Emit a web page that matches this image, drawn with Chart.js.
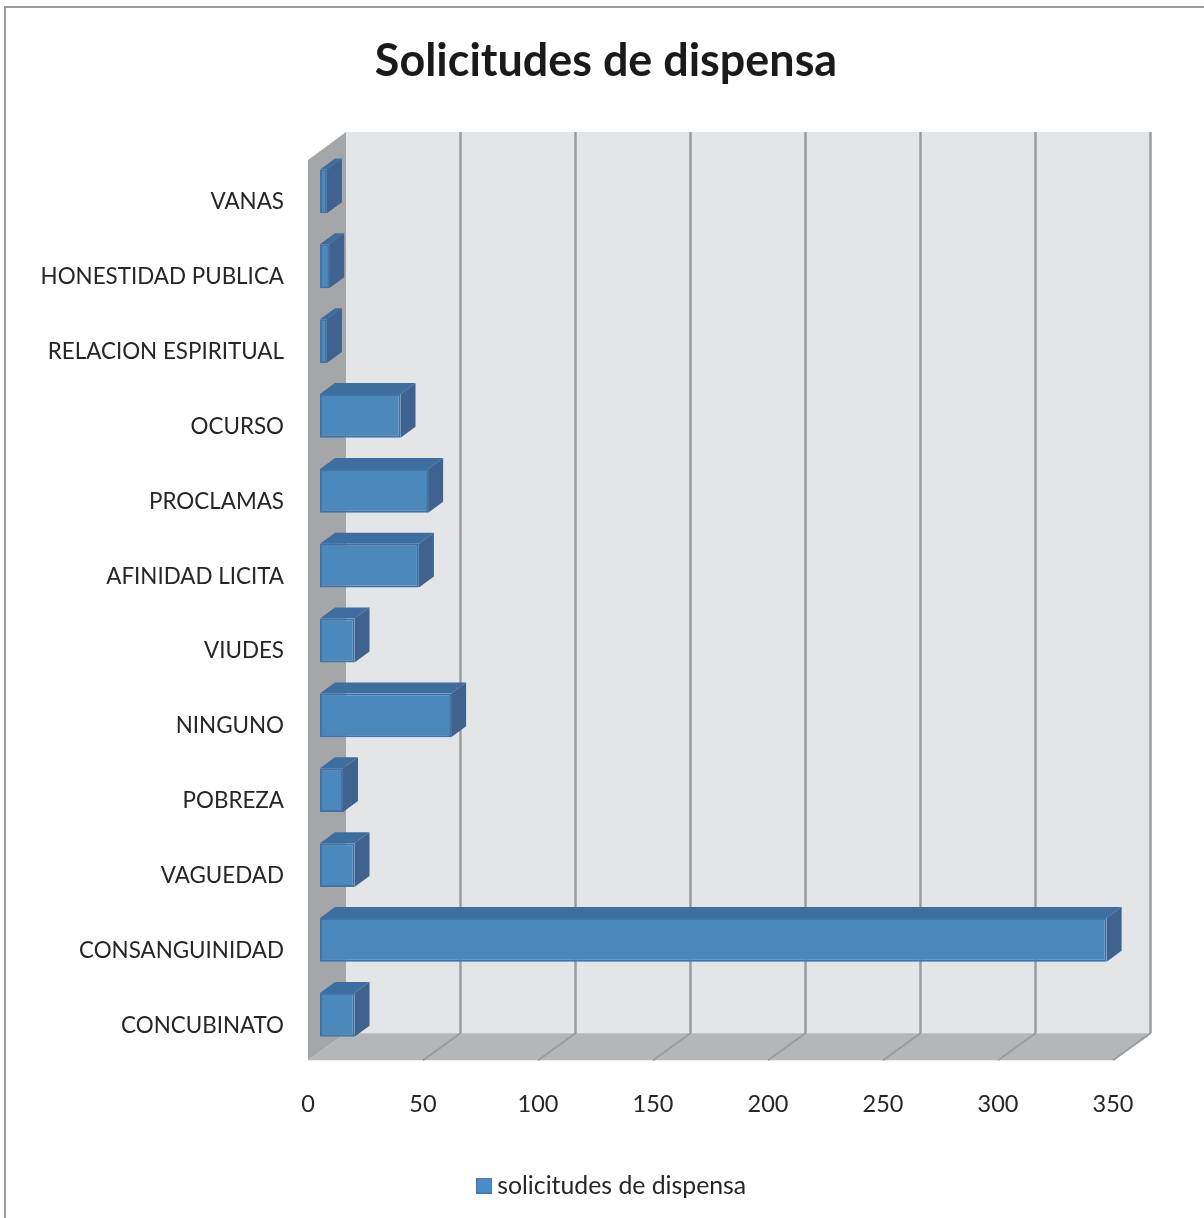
<!DOCTYPE html>
<html>
<head>
<meta charset="utf-8">
<title>Solicitudes de dispensa</title>
<script src="https://cdn.jsdelivr.net/npm/chart.js@4"></script>
<style>
  html, body { margin: 0; padding: 0; background: #fff; overflow: hidden; }
  canvas { display: block; }
</style>
</head>
<body>
<canvas id="dispensaChart" width="1204" height="1218"></canvas>
<script>
const categories = ['VANAS', 'HONESTIDAD PUBLICA', 'RELACION ESPIRITUAL', 'OCURSO', 'PROCLAMAS',
    'AFINIDAD LICITA', 'VIUDES', 'NINGUNO', 'POBREZA', 'VAGUEDAD', 'CONSANGUINIDAD', 'CONCUBINATO'];
const solicitudes = [3, 4, 3, 35, 47, 43, 15, 57, 10, 15, 342, 15];
const xTicks = [0, 50, 100, 150, 200, 250, 300, 350];

const textColor = '#262626';
const frontColor = '#4b89bc';
const edgeColor = '#3f74a8';
const topColor = '#3c6e9f';
const sideColor = '#3f628e';

// legend swatch with its thin darker border
const swatch = document.createElement('canvas');
swatch.width = 16;
swatch.height = 16;
const sw = swatch.getContext('2d');
sw.fillStyle = edgeColor;
sw.fillRect(0, 0, 16, 16);
sw.fillStyle = '#4a8cc6';
sw.fillRect(1, 1, 14, 14);

function poly(ctx, color, pts) {
    ctx.fillStyle = color;
    ctx.beginPath();
    pts.forEach((p, i) => i ? ctx.lineTo(p[0], p[1]) : ctx.moveTo(p[0], p[1]));
    ctx.closePath();
    ctx.fill();
}

// walls, floor and grid of the 3D box, placed from the x scale
const box3d = {
    id: 'box3d',
    afterLayout(chart) {
        // title and legend sit right of the centre of the layout box
        chart.titleBlock.left += 26;
        chart.titleBlock.right += 26;
        chart.legend.left += 35;
        chart.legend.right += 35;
    },
    beforeDraw(chart) {
        const { ctx, scales: { x }, chartArea: area } = chart;
        const frontL = x.getPixelForValue(0) - 12;
        const frontR = x.getPixelForValue(350) - 12;
        const backL = frontL + 38;
        const backR = frontR + 38;
        const backTop = area.top - 22;
        const frontTop = area.top + 6;
        const backBot = area.bottom - 19;
        const frontBot = area.bottom + 8;

        ctx.save();
        // chart frame, only left and top are inside the picture
        ctx.strokeStyle = '#9a9a9c';
        ctx.lineWidth = 2;
        ctx.beginPath();
        ctx.moveTo(5, chart.height);
        ctx.lineTo(5, 7);
        ctx.lineTo(chart.width, 7);
        ctx.stroke();

        poly(ctx, '#e4e5e7', [[backL, backTop], [backR, backTop], [backR, backBot], [backL, backBot]]);
        poly(ctx, '#a5a6a8', [[frontL, frontTop], [backL, backTop], [backL, backBot], [frontL, frontBot]]);
        poly(ctx, '#b5b6b8', [[frontL, frontBot], [backL, backBot], [backR, backBot], [frontR, frontBot]]);

        ctx.strokeStyle = '#9b9c9e';
        xTicks.slice(1).forEach(v => {
            const fx = x.getPixelForValue(v) - 12;
            ctx.lineWidth = 2;
            ctx.beginPath();
            ctx.moveTo(fx, frontBot);
            ctx.lineTo(fx + 37.5, backBot);
            ctx.stroke();
            ctx.lineWidth = 2.5;
            ctx.beginPath();
            ctx.moveTo(fx + 37.5, backBot);
            ctx.lineTo(fx + 37.5, backTop);
            ctx.stroke();
        });
        ctx.restore();
    },
    beforeDatasetsDraw(chart) {
        const ctx = chart.ctx;
        ctx.save();
        chart.getDatasetMeta(0).data.forEach(bar => {
            const l = bar.base;
            const r = bar.x;
            const t = bar.y - bar.height / 2;
            const b = bar.y + bar.height / 2;
            poly(ctx, topColor, [[l, t], [l + 15, t - 11], [r + 15, t - 11], [r, t]]);
            poly(ctx, sideColor, [[r, t], [r + 15, t - 11], [r + 15, b - 11], [r, b]]);
        });
        ctx.restore();
    }
};

const config = {
    type: 'bar',
    data: {
        labels: categories,
        datasets: [{
            label: 'solicitudes de dispensa',
            data: solicitudes,
            backgroundColor: frontColor,
            borderColor: edgeColor,
            borderWidth: 2,
            borderSkipped: false,
            barPercentage: 0.585,
            categoryPercentage: 1
        }]
    },
    options: {
        indexAxis: 'y',
        responsive: false,
        animation: false,
        layout: { padding: { left: 35, right: 79, top: 0, bottom: 10 } },
        scales: {
            x: {
                min: 0,
                max: 350,
                grid: { display: false, drawTicks: false },
                border: { display: false },
                ticks: {
                    stepSize: 50,
                    labelOffset: -12,
                    padding: 38,
                    maxRotation: 0,
                    color: textColor,
                    font: { family: 'Lato', size: 23.5 }
                },
                afterFit(scale) { scale.height = 111; }
            },
            y: {
                grid: { display: false, drawTicks: false },
                border: { display: false },
                ticks: {
                    autoSkip: false,
                    padding: 36,
                    labelOffset: 10.7,
                    color: textColor,
                    font: { family: 'Lato', size: 22.4 }
                },
                afterFit(scale) { scale.width = 285; }
            }
        },
        plugins: {
            title: {
                display: true,
                text: 'Solicitudes de dispensa',
                color: '#1a1a1a',
                font: { family: 'Lato', size: 44.9, weight: 'bold', lineHeight: 1.2 },
                padding: { top: 34.5, bottom: 65.6 }
            },
            legend: {
                position: 'bottom',
                labels: {
                    usePointStyle: true,
                    pointStyle: swatch,
                    pointStyleWidth: 1,
                    padding: 10,
                    color: textColor,
                    font: { family: 'Lato', size: 24.8 }
                }
            },
            tooltip: { enabled: false }
        }
    },
    plugins: [box3d]
};

new Chart(document.getElementById('dispensaChart').getContext('2d'), config);
</script>
</body>
</html>
